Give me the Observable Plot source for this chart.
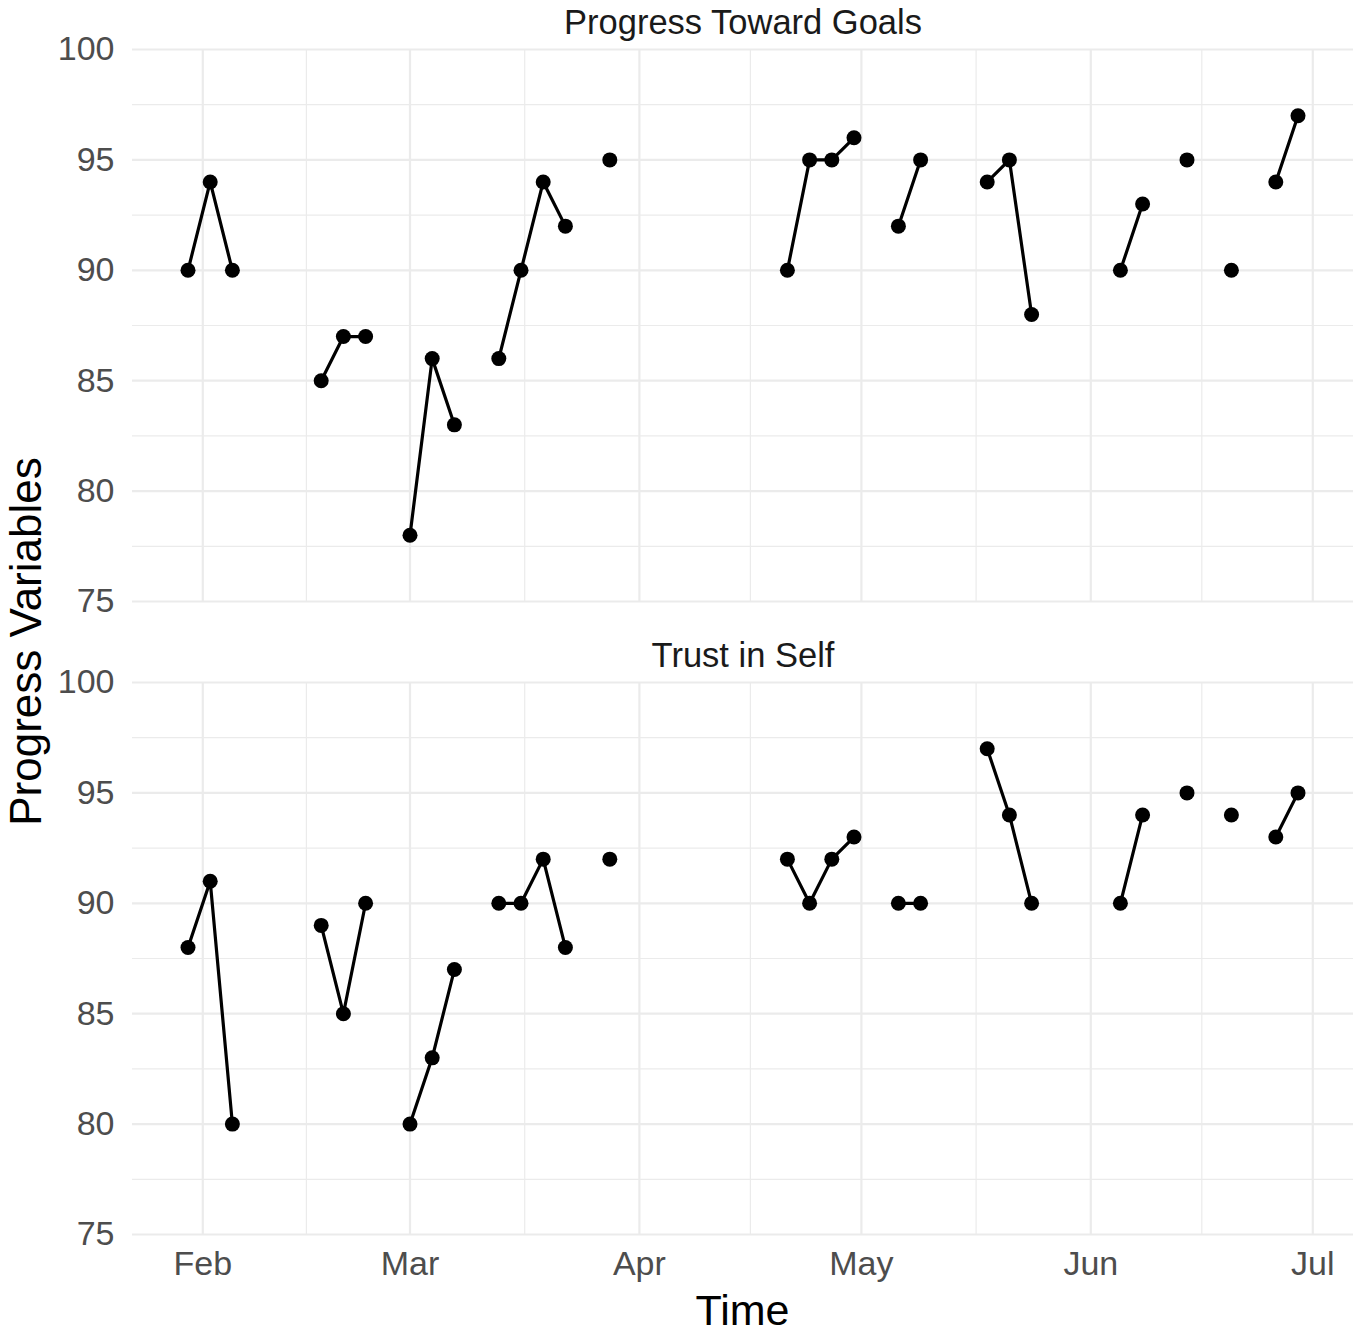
<!DOCTYPE html>
<html>
<head>
<meta charset="utf-8">
<script src="https://cdn.jsdelivr.net/npm/d3@7"></script>
<script src="https://cdn.jsdelivr.net/npm/@observablehq/plot@0.6"></script>
<style>
  body { margin: 0; background: #ffffff; }
  #chart { width: 1360px; height: 1332px; }
</style>
</head>
<body>
<div id="chart"></div>
<script>
// ---- Data ----
const panels = ["Progress Toward Goals", "Trust in Self"];

const dates = [
  "2021-01-30", "2021-02-02", "2021-02-05", "2021-02-08", "2021-02-11", "2021-02-14",
  "2021-02-17", "2021-02-20", "2021-02-23", "2021-02-26", "2021-03-01", "2021-03-04",
  "2021-03-07", "2021-03-10", "2021-03-13", "2021-03-16", "2021-03-19", "2021-03-22",
  "2021-03-25", "2021-03-28", "2021-03-31", "2021-04-03", "2021-04-06", "2021-04-09",
  "2021-04-12", "2021-04-15", "2021-04-18", "2021-04-21", "2021-04-24", "2021-04-27",
  "2021-04-30", "2021-05-03", "2021-05-06", "2021-05-09", "2021-05-12", "2021-05-15",
  "2021-05-18", "2021-05-21", "2021-05-24", "2021-05-27", "2021-05-30", "2021-06-02",
  "2021-06-05", "2021-06-08", "2021-06-11", "2021-06-14", "2021-06-17", "2021-06-20",
  "2021-06-23", "2021-06-26", "2021-06-29"
];

const progressTowardGoals = [
  90, 94, 90, null, null, null,
  85, 87, 87, null, 78, 86,
  83, null, 86, 90, 94, 92,
  null, 95, null, null, null, null,
  null, null, null, 90, 95, 95,
  96, null, 92, 95, null, null,
  94, 95, 88, null, null, null,
  90, 93, null, 95, null, 90,
  null, 94, 97
];

const trustInSelf = [
  88, 91, 80, null, null, null,
  89, 85, 90, null, 80, 83,
  87, null, 90, 90, 92, 88,
  null, 92, null, null, null, null,
  null, null, null, 92, 90, 92,
  93, null, 90, 90, null, null,
  97, 94, 90, null, null, null,
  90, 94, null, 95, null, 94,
  null, 93, 95
];

const monthTicks = ["2021-02-01", "2021-03-01", "2021-04-01", "2021-05-01", "2021-06-01", "2021-07-01"];
const yTicks = [75, 80, 85, 90, 95, 100];
const yMinorTicks = [77.5, 82.5, 87.5, 92.5, 97.5];

// ---- Build table ----
const parse = d3.utcParse("%Y-%m-%d");
const series = [progressTowardGoals, trustInSelf];
const rows = [];
panels.forEach((p, k) => {
  dates.forEach((d, i) => rows.push({panel: p, date: parse(d), value: series[k][i]}));
});

const majorX = monthTicks.map(parse);
const minorX = d3.pairs(majorX).map(([a, b]) => new Date((+a + +b) / 2));

// ggplot-style 5% expansion of the date range
const [d0, d1] = d3.extent(rows, d => d.date);
const pad = (d1 - d0) * 0.05;
const xDomain = [new Date(+d0 - pad), new Date(+d1 + pad)];

const W = 1360, H = 1332;
const gridColor = "#EBEBEB";

const chart = Plot.plot({
  width: W,
  height: H,
  marginTop: 48,
  marginBottom: 97,
  marginLeft: 132,
  marginRight: 7,
  style: {
    fontFamily: "'Liberation Sans', Arial, Helvetica, sans-serif",
    fontSize: "34px",
    color: "#4D4D4D",
    background: "#ffffff",
    overflow: "visible"
  },
  x: {type: "utc", domain: xDomain},
  y: {domain: [75, 100]},
  fy: {domain: panels, axis: null, paddingInner: 0.12776, paddingOuter: 0},
  marks: [
    Plot.ruleY(yMinorTicks, {stroke: gridColor, strokeWidth: 1.2}),
    Plot.ruleX(minorX, {stroke: gridColor, strokeWidth: 1.2}),
    Plot.ruleY(yTicks, {stroke: gridColor, strokeWidth: 2.2}),
    Plot.ruleX(majorX, {stroke: gridColor, strokeWidth: 2.2}),
    Plot.axisY(yTicks, {tickSize: 0, tickPadding: 18, label: null, fontSize: 34, fill: "#4D4D4D"}),
    Plot.axisX(majorX, {tickSize: 0, tickPadding: 16, label: null, fontSize: 34, fill: "#4D4D4D", tickFormat: d3.utcFormat("%b")}),
    Plot.text(panels, {fy: d => d, text: d => d, frameAnchor: "top", lineAnchor: "bottom", dy: -16, fontSize: 34.5, fill: "#1A1A1A"}),
    Plot.line(rows, {x: "date", y: "value", fy: "panel", stroke: "#000000", strokeWidth: 3.2}),
    Plot.dot(rows, {x: "date", y: "value", fy: "panel", r: 7.5, fill: "#000000", stroke: "none"})
  ]
});

document.getElementById("chart").appendChild(chart);

// Axis titles (shared across facets)
const svg = d3.select(chart);
svg.append("text")
  .attr("x", (132 + (W - 7)) / 2)
  .attr("y", 1325)
  .attr("text-anchor", "middle")
  .attr("fill", "#000000")
  .style("font-size", "43px")
  .text("Time");
svg.append("text")
  .attr("transform", `translate(41,${(48 + 1235) / 2}) rotate(-90)`)
  .attr("text-anchor", "middle")
  .attr("fill", "#000000")
  .style("font-size", "44px")
  .text("Progress Variables");
</script>
</body>
</html>
